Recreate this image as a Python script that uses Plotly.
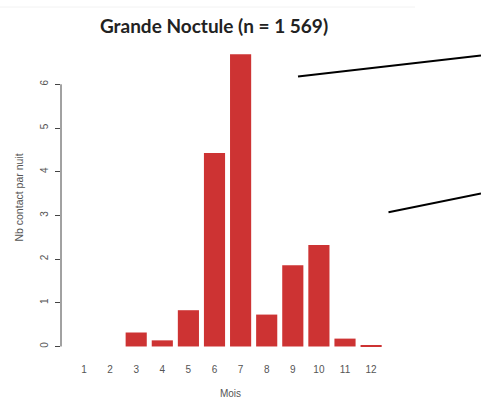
import plotly.graph_objects as go

months = [1, 2, 3, 4, 5, 6, 7, 8, 9, 10, 11, 12]
month_labels = ["1", "2", "3", "4", "5", "6", "7", "8", "9", "10", "11", "12"]
contacts = [0.0, 0.0, 0.32, 0.14, 0.83, 4.43, 6.69, 0.73, 1.86, 2.32, 0.18, 0.015]
y_ticks = [0, 1, 2, 3, 4, 5, 6]

fig = go.Figure()
fig.add_trace(go.Bar(
    x=months, y=contacts, width=0.81,
    marker=dict(color="#CD3333", line=dict(width=0)),
))

fig.update_layout(
    width=481, height=405,
    margin=dict(l=61, r=81, t=40, b=50, autoexpand=False),
    paper_bgcolor="white", plot_bgcolor="white",
    showlegend=False,
    title=dict(text="<b>Grande Noctule (n = 1 569)</b>", x=214/481, xanchor="center",
               y=1 - 26/405, yanchor="middle",
               font=dict(family="Lato, Open Sans, sans-serif", size=19, color="#222")),
    xaxis=dict(range=[0.119, 13.107], tickmode="array", tickvals=months, ticktext=month_labels,
               automargin=False,
               showline=False, showgrid=False, zeroline=False, ticks="outside", ticklen=5,
               tickcolor="rgba(0,0,0,0)",
               tickfont=dict(family="Liberation Sans, Arial, sans-serif", size=10, color="#555"),
               title=dict(text="Mois", standoff=15,
                          font=dict(family="Liberation Sans, Arial, sans-serif", size=10, color="#555"))),
    yaxis=dict(range=[-0.195, 7.014], tickmode="array", tickvals=y_ticks,
               automargin=False, ticklabelstandoff=3,
               showline=False, showgrid=False, zeroline=False, ticks="outside", ticklen=5,
               tickcolor="#444", tickwidth=1, tickangle=-90,
               tickfont=dict(family="Liberation Sans, Arial, sans-serif", size=10, color="#555"),
               title=dict(text="Nb contact par nuit", standoff=13,
                          font=dict(family="Liberation Sans, Arial, sans-serif", size=10.5, color="#555"))),
    shapes=[
        dict(type="line", xref="paper", yref="y", x0=0, x1=0, y0=0, y1=6,
             line=dict(color="#444", width=1)),
        dict(type="line", xref="paper", yref="paper",
             x0=(298-61)/339, y0=(355-76.5)/315, x1=(481-61)/339, y1=(355-55.5)/315,
             line=dict(color="black", width=2)),
        dict(type="line", xref="paper", yref="paper",
             x0=(388.5-61)/339, y0=(355-212.3)/315, x1=(481-61)/339, y1=(355-193.5)/315,
             line=dict(color="black", width=2)),
        dict(type="line", xref="paper", yref="paper",
             x0=(0-61)/339, y0=(355-7)/315, x1=(415-61)/339, y1=(355-7)/315,
             line=dict(color="#f2f2f2", width=1)),
    ],
)

fig.write_html("out.html", config={"displayModeBar": False},
               post_script="document.body.style.margin='0';")
